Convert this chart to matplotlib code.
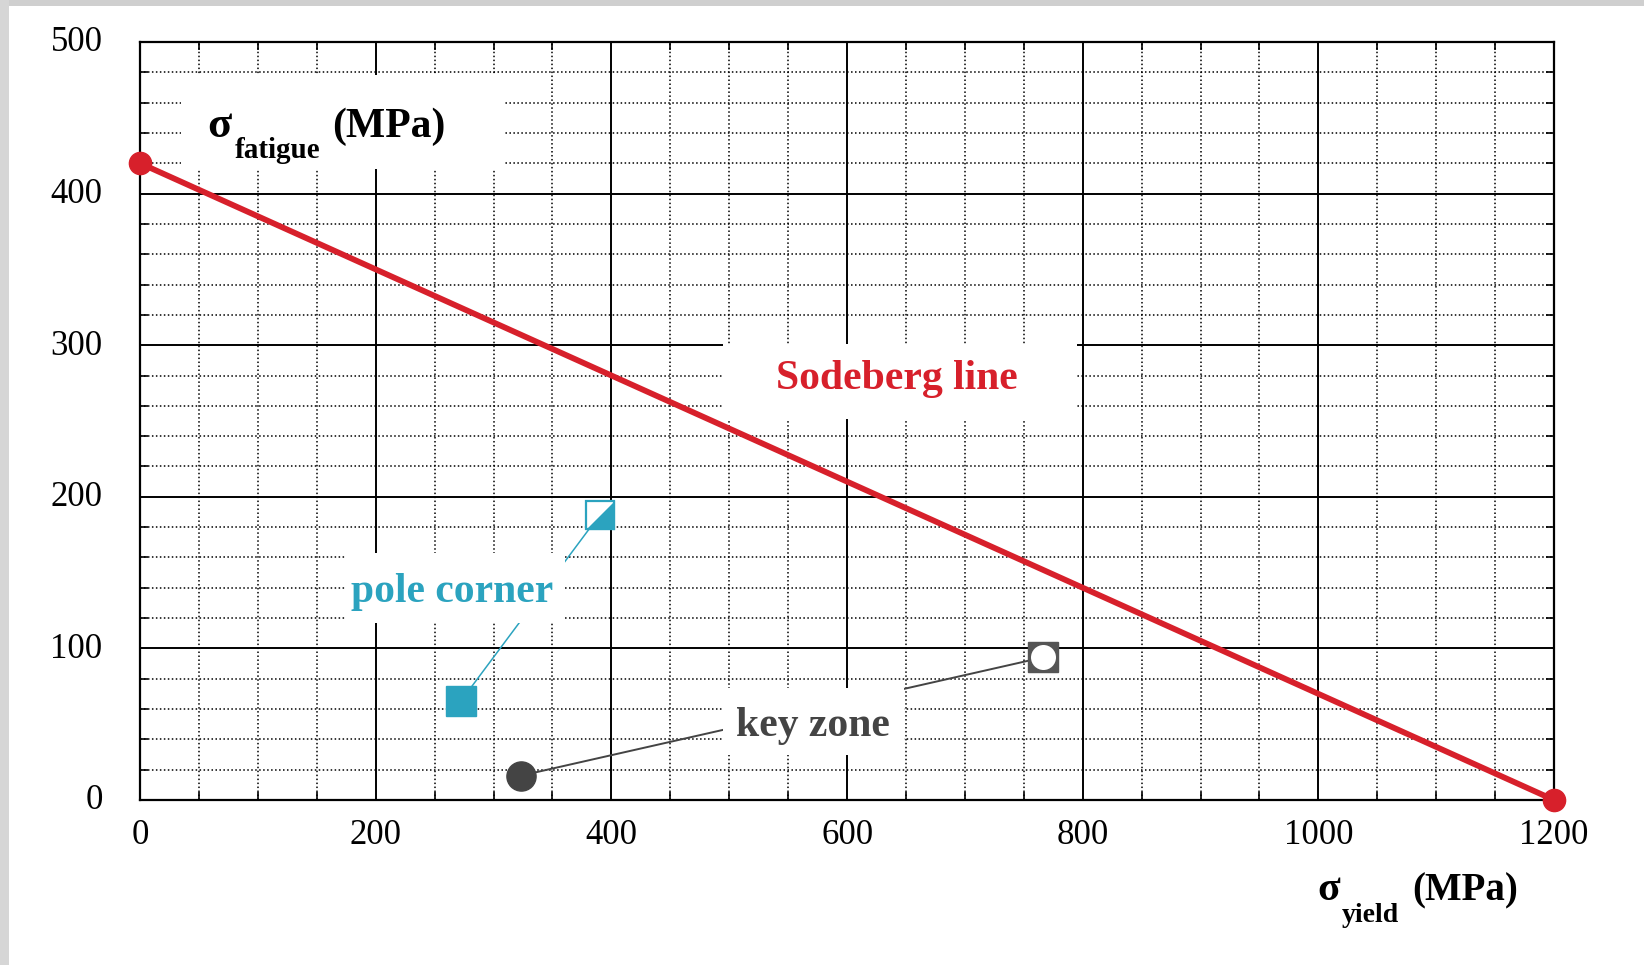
import matplotlib
matplotlib.use('Agg')
import matplotlib.pyplot as plt
from matplotlib.patches import Rectangle
from matplotlib.path import Path
from matplotlib.ticker import MultipleLocator
from matplotlib.transforms import ScaledTranslation

# Sodeberg line end points (yield, fatigue) in MPa
line_x = [0, 1200]
line_y = [420, 0]

# pole corner points: filled square, half-filled square
pole_x = [272, 390]
pole_y = [65, 188]

# key zone points: dark circle, open circle in square
key_x = [323, 766]
key_y = [16, 94]

x_ticks = [0, 200, 400, 600, 800, 1000, 1200]
y_ticks = [0, 100, 200, 300, 400, 500]

red = '#d7202b'
teal = '#2ba3bf'
dark = '#444444'

plt.rcParams['font.family'] = ['Liberation Serif', 'DejaVu Serif']

fig = plt.figure(figsize=(16.44, 9.65), dpi=100)
ax = fig.add_axes([0.0852, 0.171, 0.8601, 0.7855])

ax.set_xlim(0, 1200)
ax.set_ylim(0, 500)
ax.set_xticks(x_ticks)
ax.set_yticks(y_ticks)
ax.xaxis.set_minor_locator(MultipleLocator(50))
ax.yaxis.set_minor_locator(MultipleLocator(20))
ax.set_axisbelow(True)
ax.grid(which='major', color='black', lw=1.4, ls='-')
ax.grid(which='minor', color='black', lw=1.1, ls=(0, (1, 1.6)))
ax.tick_params(which='both', direction='in', top=True, right=True)
ax.tick_params(which='major', length=0, labelsize=25, pad=14)
ax.tick_params(axis='y', which='major', pad=27)
ax.tick_params(which='minor', length=6, width=1.2)
for s in ax.spines.values():
    s.set_linewidth(1.6)
# nudge y labels up a little
for lab in ax.get_yticklabels():
    lab.set_transform(lab.get_transform() + ScaledTranslation(0, 0.03, fig.dpi_scale_trans))

# white boxes behind the labels
boxes = [(35, 416, 275, 62), (495, 251, 300, 49.7), (175, 117, 186, 46), (495, 30, 153, 44)]
for bx, by, bw, bh in boxes:
    ax.add_patch(Rectangle((bx, by), bw, bh, facecolor='white', edgecolor='none', zorder=1))

# leader lines
ax.plot(pole_x, pole_y, color=teal, lw=1.1, zorder=0.9)
ax.plot(key_x, key_y, color=dark, lw=1.4, zorder=0.9)

# Sodeberg line
ax.plot(line_x, line_y, color=red, lw=4.2, marker='o', ms=16, zorder=3, clip_on=False)

# pole corner markers
ax.plot(pole_x[0], pole_y[0], 's', ms=21, color=teal, zorder=4)
ax.plot(pole_x[1], pole_y[1], 's', ms=20, mfc='white', mec=teal, mew=1.6, zorder=4)
tri = Path([(-1, -1), (1, -1), (1, 1), (-1, -1)])
ax.plot(pole_x[1], pole_y[1], marker=tri, ms=21, color=teal, mew=0, zorder=5)

# key zone markers
ax.plot(key_x[0], key_y[0], 'o', ms=21, color=dark, zorder=4)
ax.plot(key_x[1], key_y[1], 's', ms=21, color='#555555', zorder=4)
ax.plot(key_x[1], key_y[1], 'o', ms=18, color='white', mew=0, zorder=5)

# labels
bold = dict(fontweight='bold', zorder=6)
ax.text(642, 278, 'Sodeberg line', color=red, fontsize=30, ha='center', va='center', **bold)
ax.text(265, 137.5, 'pole corner', color=teal, fontsize=30, ha='center', va='center', **bold)
ax.text(571, 49, 'key zone', color=dark, fontsize=30, ha='center', va='center', **bold)

ax.text(57, 437.3, 'σ', fontsize=32, va='baseline', **bold)
ax.text(80, 423.6, 'fatigue', fontsize=21, va='baseline', **bold)
ax.text(163, 437.3, '(MPa)', fontsize=30, va='baseline', **bold)

ax.text(999, -66, 'σ', fontsize=30, va='baseline', clip_on=False, **bold)
ax.text(1020, -80.5, 'yield', fontsize=20, va='baseline', clip_on=False, **bold)
ax.text(1080, -66, '(MPa)', fontsize=28, va='baseline', clip_on=False, **bold)

# screenshot border bands
fig.patches.append(Rectangle((0, 1 - 6 / 965), 1, 6 / 965, transform=fig.transFigure,
                             facecolor='#cfcfcf', edgecolor='none'))
fig.patches.append(Rectangle((0, 0), 9 / 1644, 1, transform=fig.transFigure,
                             facecolor='#d6d6d6', edgecolor='none'))

fig.savefig('out.png', dpi=100)
